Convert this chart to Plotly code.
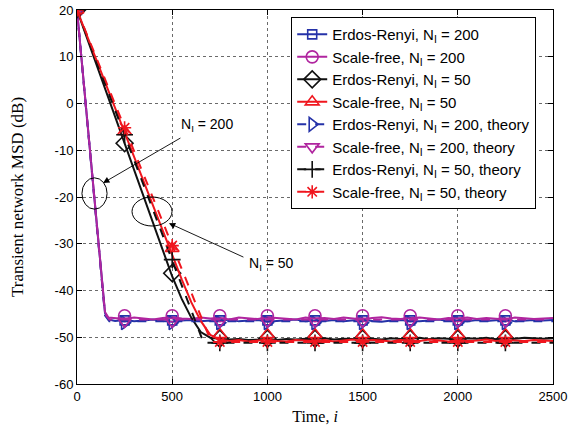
import plotly.graph_objects as go

# ---------------- data ----------------
t200 = [0, 147, 165] + list(range(200, 2501, 50))
er200_sim = [20, -44.8, -46.2,
             -46.5, -46.3, -46.6, -46.4, -46.2, -46.5, -46.7, -46.4, -46.3, -46.6,
             -46.4, -46.5, -46.2, -46.6, -46.4, -46.3, -46.7, -46.5, -46.4, -46.2,
             -46.6, -46.4, -46.5, -46.3, -46.6, -46.4, -46.2, -46.5, -46.7, -46.4,
             -46.3, -46.5, -46.6, -46.4, -46.2, -46.5, -46.4, -46.6, -46.3, -46.5,
             -46.4, -46.2, -46.6, -46.5, -46.3, -46.4, -46.3]
sf200_sim = [20, -44.6, -45.8,
             -45.9, -46.1, -45.8, -46.0, -46.2, -45.9, -45.7, -46.0, -46.1, -45.8,
             -46.0, -45.9, -46.2, -45.8, -46.0, -46.1, -45.7, -45.9, -46.0, -46.2,
             -45.8, -46.0, -45.9, -46.1, -45.8, -46.0, -46.2, -45.9, -45.7, -46.0,
             -46.1, -45.9, -45.8, -46.0, -46.2, -45.9, -46.0, -45.8, -46.1, -45.9,
             -46.0, -46.2, -45.8, -45.9, -46.1, -46.0, -45.9]

t50 = [0, 250, 500, 550, 600, 650, 700] + list(range(750, 2501, 50))
er50_sim = [20, -8.5, -37.0, -41.8, -45.8, -48.9, -50.1,
            -50.3, -50.5, -50.4, -50.6, -50.5, -50.3, -50.6, -50.4, -50.5, -50.3,
            -50.4, -50.2, -50.5, -50.3, -50.4, -50.2, -50.3, -50.5, -50.2, -50.4,
            -50.3, -50.1, -50.4, -50.2, -50.3, -50.5, -50.2, -50.3, -50.1, -50.4,
            -50.2, -50.3, -50.1, -50.2, -50.3, -50.2]
sf50_sim = [20, -6.3, -32.5, -37.6, -42.5, -46.5, -49.5,
            -50.5, -50.8, -50.6, -50.9, -50.7, -50.5, -50.8, -50.9, -50.6, -50.7,
            -50.8, -50.6, -50.9, -50.7, -50.5, -50.8, -50.6, -50.7, -50.9, -50.6,
            -50.7, -50.8, -50.5, -50.7, -50.9, -50.6, -50.8, -50.7, -50.5, -50.8,
            -50.6, -50.7, -50.8, -50.6, -50.7, -50.8]

t_er200_th = [0, 147, 170, 2500]
er200_th = [20, -45.3, -46.6, -46.6]
t_sf200_th = [0, 147, 170, 2500]
sf200_th = [20, -45.0, -46.2, -46.2]
t_er50_th = [0, 665, 2500]
er50_th = [20, -51.2, -51.2]
t_sf50_th = [0, 705, 2500]
sf50_th = [20, -51.0, -51.0]

t_mk = list(range(0, 2251, 250))
er200_sim_mk = [20, -46.4, -46.4, -46.4, -46.4, -46.4, -46.4, -46.4, -46.4, -46.4]
sf200_sim_mk = [20, -45.4, -45.4, -45.4, -45.4, -45.4, -45.4, -45.4, -45.4, -45.4]
er50_sim_mk = [20, -8.5, -36.3, -50.3, -50.3, -50.3, -50.3, -50.3, -50.3, -50.3]
sf50_sim_mk = [20, -6.0, -31.0, -49.4, -49.4, -49.4, -49.4, -49.4, -49.4, -49.4]
er200_th_mk = [20, -46.9, -46.9, -46.9, -46.9, -46.9, -46.9, -46.9, -46.9, -46.9]
sf200_th_mk = [20, -46.6, -46.6, -46.6, -46.6, -46.6, -46.6, -46.6, -46.6, -46.6]
er50_th_mk = [20, -6.7, -33.4, -51.2, -51.2, -51.2, -51.2, -51.2, -51.2, -51.2]
sf50_th_mk = [20, -5.2, -30.4, -51.0, -51.0, -51.0, -51.0, -51.0, -51.0, -51.0]

names = ["Erdos-Renyi, N<sub>I</sub> = 200", "Scale-free, N<sub>I</sub> = 200",
         "Erdos-Renyi, N<sub>I</sub> = 50", "Scale-free, N<sub>I</sub> = 50",
         "Erdos-Renyi, N<sub>I</sub> = 200, theory", "Scale-free, N<sub>I</sub> = 200, theory",
         "Erdos-Renyi, N<sub>I</sub> = 50, theory", "Scale-free, N<sub>I</sub> = 50, theory"]

BLUE = "#2532a8"
MAG = "#b0259f"
BLK = "#111111"
RED = "#f0161e"

series = [
    (t200, er200_sim, er200_sim_mk, BLUE, "solid", "square-open", 9),
    (t200, sf200_sim, sf200_sim_mk, MAG, "solid", "circle-open", 12),
    (t50, er50_sim, er50_sim_mk, BLK, "solid", "diamond-open", 13),
    (t50, sf50_sim, sf50_sim_mk, RED, "solid", "triangle-up-open", 12),
    (t_er200_th, er200_th, er200_th_mk, BLUE, "dash", "triangle-right-open", 12),
    (t_sf200_th, sf200_th, sf200_th_mk, MAG, "dash", "triangle-down-open", 12),
    (t_er50_th, er50_th, er50_th_mk, BLK, "dash", "cross-thin-open", 12),
    (t_sf50_th, sf50_th, sf50_th_mk, RED, "dash", "asterisk-open", 11),
]

fig = go.Figure()
for (tx, ty, my, col, dash, sym, ms), nm in zip(series, names):
    fig.add_trace(go.Scatter(x=tx, y=ty, mode="lines", showlegend=False,
                             line=dict(color=col, width=2, dash=dash)))
    fig.add_trace(go.Scatter(x=t_mk, y=my, mode="markers", showlegend=False,
                             marker=dict(symbol=sym, size=ms, color=col,
                                         line=dict(color=col, width=1.6))))
for (tx, ty, my, col, dash, sym, ms), nm in zip(series, names):
    fig.add_trace(go.Scatter(x=[None], y=[None], mode="lines+markers", name=nm,
                             line=dict(color=col, width=2, dash=dash),
                             marker=dict(symbol=sym, size=ms, color=col,
                                         line=dict(color=col, width=1.6))))

# ellipses and arrows
fig.add_shape(type="circle", xref="x", yref="y", x0=26, x1=158, y0=-22.6, y1=-15.9,
              line=dict(color="black", width=1))
fig.add_shape(type="circle", xref="x", yref="y", x0=289, x1=499, y0=-26.2, y1=-20.0,
              line=dict(color="black", width=1))
fig.add_annotation(x=137, y=-17.0, ax=551, ay=-7.2, axref="x", ayref="y", xref="x", yref="y",
                   text="", showarrow=True, arrowhead=2, arrowsize=1.4, arrowwidth=0.9,
                   arrowcolor="black")
fig.add_annotation(x=483, y=-25.6, ax=882, ay=-33.0, axref="x", ayref="y", xref="x", yref="y",
                   text="", showarrow=True, arrowhead=2, arrowsize=1.4, arrowwidth=0.9,
                   arrowcolor="black")
fig.add_annotation(x=683, y=-4.6, xref="x", yref="y", text="N<sub>I</sub> = 200",
                   showarrow=False, font=dict(family="Liberation Sans", size=14, color="black"))
fig.add_annotation(x=1024, y=-34.3, xref="x", yref="y", text="N<sub>I</sub> = 50",
                   showarrow=False, font=dict(family="Liberation Sans", size=14, color="black"))

xt = [0, 500, 1000, 1500, 2000, 2500]
yt = [-60, -50, -40, -30, -20, -10, 0, 10, 20]
axis_common = dict(showline=True, linecolor="black", linewidth=1, mirror="allticks",
                   ticks="inside", ticklen=5, tickcolor="black", showgrid=True,
                   gridcolor="#6a6a6a", griddash="dot", gridwidth=1, zeroline=False,
                   automargin=False,
                   tickfont=dict(family="Liberation Sans", size=13, color="black"))
fig.update_xaxes(range=[0, 2500], tickvals=xt, ticktext=[str(v) for v in xt],
                 title=dict(text="Time, <i>i</i>", standoff=8,
                            font=dict(family="Liberation Serif", size=16, color="black")),
                 **axis_common)
fig.update_yaxes(range=[-60, 20], tickvals=yt, ticktext=[str(v) for v in yt],
                 title=dict(text="Transient network MSD (dB)", standoff=26,
                            font=dict(family="Liberation Serif", size=17, color="black")),
                 **axis_common)

fig.update_layout(
    width=568, height=429,
    margin=dict(l=77, r=15, t=10, b=45, autoexpand=False),
    plot_bgcolor="white", paper_bgcolor="white",
    legend=dict(x=0.45, y=0.981, xanchor="left", yanchor="top",
                bgcolor="white", bordercolor="black", borderwidth=1,
                font=dict(family="Liberation Sans", size=15, color="black"),
                tracegroupgap=0),
)
fig.write_html("out.html", config={"displayModeBar": False},
               post_script="document.body.style.margin='0';document.body.style.padding='0';")
